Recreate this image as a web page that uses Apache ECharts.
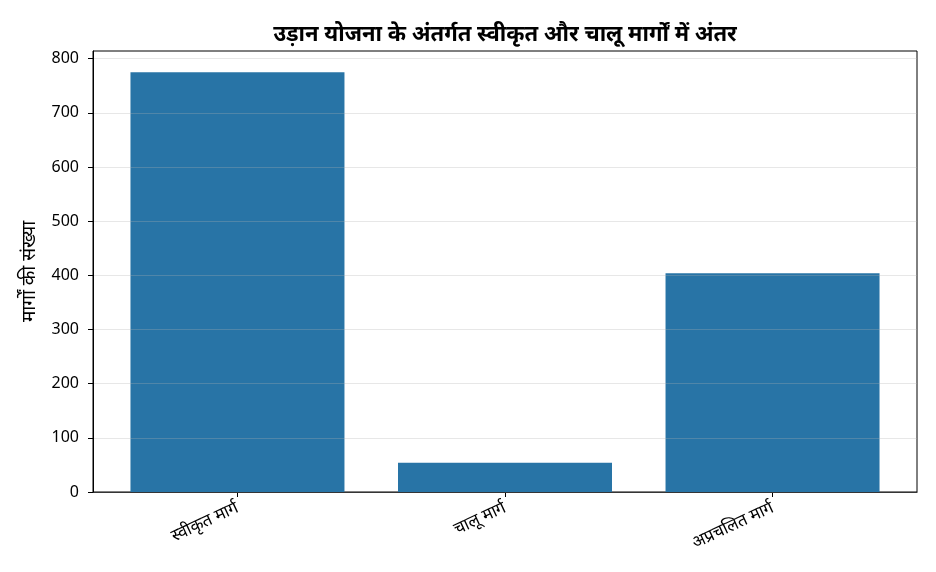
<!DOCTYPE html>
<html>
<head>
<meta charset="utf-8">
<script src="https://cdn.jsdelivr.net/npm/echarts@6/dist/echarts.min.js"></script>
<style>
  html, body { margin: 0; padding: 0; background: #fff; }
  #chart { width: 936px; height: 572px; }
</style>
</head>
<body>
<div id="chart"></div>
<script>
// data
const categories = ['स्वीकृत मार्ग', 'चालू मार्ग', 'अप्रचलित मार्ग'];
const routeCounts = [775, 54, 404];
const yTicks = [0, 100, 200, 300, 400, 500, 600, 700, 800];

const FONT = '"Noto Sans", "Noto Sans Devanagari", "DejaVu Sans", sans-serif';

const chart = echarts.init(document.getElementById('chart'));

chart.setOption({
  animation: false,
  backgroundColor: '#fff',
  title: {
    text: 'उड़ान योजना के अंतर्गत स्वीकृत और चालू मार्गों में अंतर',
    left: 500,
    top: 19,
    textAlign: 'center',
    textStyle: { fontFamily: FONT, fontSize: 22, fontWeight: 'bold', color: '#000' }
  },
  grid: {
    left: 93, right: 19, top: 51, bottom: 80,
    show: true, borderColor: '#000', borderWidth: 1, backgroundColor: 'transparent'
  },
  xAxis: {
    type: 'value',
    min: -0.54,
    max: 2.54,
    axisLine: { show: true, onZero: false, lineStyle: { color: '#000', width: 1 } },
    axisTick: { show: true, length: 5, customValues: [0, 1, 2], lineStyle: { color: '#000' } },
    splitLine: { show: false },
    axisLabel: {
      customValues: [0, 1, 2],
      rotate: 25,
      margin: 15,
      color: '#000',
      fontSize: 17,
      fontFamily: FONT,
      formatter: v => categories[Math.round(v)] || ''
    }
  },
  yAxis: {
    type: 'value',
    min: 0,
    max: 814,
    z: 3,
    name: 'मार्गों की संख्या',
    nameLocation: 'middle',
    nameGap: 54,
    nameTextStyle: { fontFamily: FONT, fontSize: 19, color: '#000' },
    axisLine: { show: true, onZero: false, lineStyle: { color: '#000', width: 1 } },
    axisTick: { show: true, length: 5, customValues: yTicks, lineStyle: { color: '#000' } },
    axisLabel: {
      customValues: yTicks,
      color: '#000',
      fontSize: 16,
      fontFamily: FONT,
      margin: 14
    },
    splitLine: { show: true, lineStyle: { color: 'rgba(176,176,176,0.3)', width: 1 } }
  },
  series: [{
    type: 'bar',
    data: routeCounts.map((v, i) => [i, v]),
    barWidth: 214,
    itemStyle: { color: '#2874a6' }
  }]
});
</script>
</body>
</html>
